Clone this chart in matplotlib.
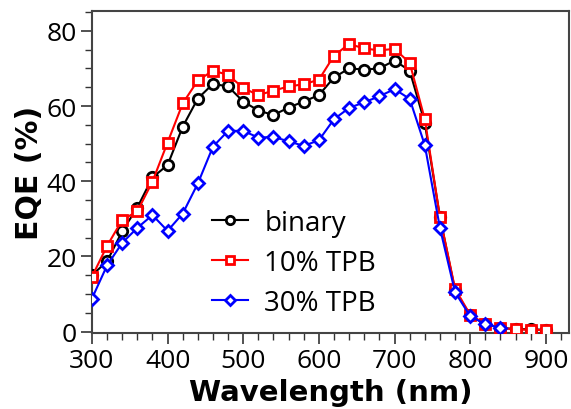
import matplotlib
matplotlib.use("Agg")
import matplotlib.pyplot as plt
from matplotlib.ticker import MultipleLocator

wl = [300, 320, 340, 360, 380, 400, 420, 440, 460, 480, 500, 520, 540, 560, 580, 600,
      620, 640, 660, 680, 700, 720, 740, 760, 780, 800, 820, 840, 860, 880, 900]
binary = [15.0, 18.7, 26.7, 33.0, 41.0, 44.3, 54.5, 62.0, 65.9, 65.2, 61.2, 58.8, 57.6,
          59.6, 61.2, 62.9, 67.6, 70.0, 69.7, 70.0, 72.1, 69.4, 55.5, 30.5, 11.0, 4.3,
          2.0, 1.0, 0.7, 0.6, 0.5]
tpb10 = [14.6, 22.8, 29.7, 32.0, 39.9, 50.3, 60.7, 66.8, 69.4, 68.3, 64.8, 62.9, 64.1,
         65.2, 65.8, 67.0, 73.4, 76.5, 75.3, 74.8, 75.2, 71.5, 56.5, 30.5, 11.4, 4.5,
         2.0, 1.0, 0.6, 0.5, 0.4]
wl30 = wl[:28]
tpb30 = [8.8, 17.6, 23.6, 27.6, 31.0, 26.8, 31.4, 39.4, 49.2, 53.4, 53.4, 51.6, 51.8,
         50.6, 49.4, 50.9, 56.5, 59.5, 61.0, 62.6, 64.5, 61.9, 49.6, 27.6, 10.5, 4.1,
         2.0, 1.0]

fig = plt.figure(figsize=(5.71, 4.10), dpi=100)
ax = fig.add_axes([0.161, 0.185, 0.836, 0.786])

mk = dict(markerfacecolor="white", markersize=7.5, markeredgewidth=2, linewidth=1.5)
ax.plot(wl, binary, "-o", color="black", label="binary", zorder=3, **mk)
ax.plot(wl, tpb10, "-s", color="red", label="10% TPB", zorder=4, **mk)
ax.plot(wl30, tpb30, "-D", color="blue", label="30% TPB", zorder=5,
        markerfacecolor="white", markersize=6.5, markeredgewidth=2, linewidth=1.5)

ax.set_xlim(300, 931)
ax.set_ylim(-0.4, 85.3)
ax.xaxis.set_major_locator(MultipleLocator(100))
ax.xaxis.set_minor_locator(MultipleLocator(20))
ax.yaxis.set_major_locator(MultipleLocator(20))
ax.yaxis.set_minor_locator(MultipleLocator(5))
ax.tick_params(which="major", length=8, width=1.2, color="#333333", labelsize=19, pad=3)
ax.tick_params(which="minor", length=5, width=1.0, color="#333333")
for lab in ax.get_xticklabels() + ax.get_yticklabels():
    lab.set_family("Open Sans")
for s in ax.spines.values():
    s.set_color("#444444")
    s.set_linewidth(1.5)

ax.set_xlabel("Wavelength (nm)", fontsize=21, fontweight="bold", labelpad=3)
ax.set_ylabel("EQE (%)", fontsize=21.5, fontweight="bold", labelpad=2)

ax.legend(loc="upper left", bbox_to_anchor=(0.21, 0.445), frameon=False,
          prop={"family": "Open Sans", "size": 20},
          handlelength=1.3, handletextpad=0.6, labelspacing=0.42, markerscale=0.8,
          borderpad=0.2)

fig.savefig("out.png", dpi=100)
